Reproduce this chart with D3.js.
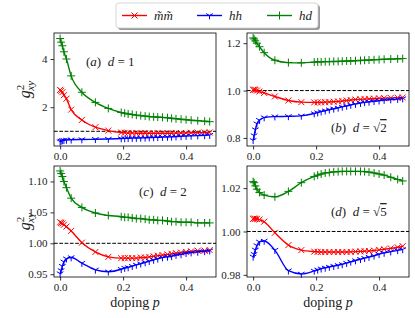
<!DOCTYPE html>
<html>
<head>
<meta charset="utf-8">
<script src="https://cdn.jsdelivr.net/npm/d3@7/dist/d3.min.js"></script>
<style>
body { margin: 0; background: #fff; }
text { font-family: "Liberation Serif", "DejaVu Serif", serif; fill: #222; }
</style>
</head>
<body>
<script>
// doping values (same grid for every panel)
const doping = [0, 0.003, 0.007, 0.012, 0.02, 0.035, 0.069, 0.112, 0.153, 0.194, 0.205, 0.216, 0.229, 0.242,
  0.256, 0.27, 0.283, 0.297, 0.31, 0.325, 0.341, 0.354, 0.368, 0.384, 0.4, 0.416, 0.437, 0.459, 0.475];

// (a) d = 1
const mmA = [2.72, 2.68, 2.62, 2.5, 2.35, 1.9, 1.47, 1.17, 1.03, 0.95, 0.94, 0.93, 0.93, 0.92, 0.92, 0.92, 0.92,
  0.92, 0.92, 0.92, 0.92, 0.92, 0.93, 0.93, 0.93, 0.94, 0.94, 0.95, 0.95];
const hhA = [0.57, 0.6, 0.62, 0.63, 0.64, 0.65, 0.66, 0.67, 0.68, 0.7, 0.705, 0.71, 0.715, 0.72, 0.725, 0.73,
  0.74, 0.745, 0.75, 0.76, 0.765, 0.77, 0.78, 0.79, 0.8, 0.81, 0.82, 0.83, 0.84];
const hdA = [4.85, 4.7, 4.55, 4.3, 4.0, 3.3, 2.62, 2.2, 1.95, 1.78, 1.75, 1.72, 1.7, 1.67, 1.65, 1.63, 1.61,
  1.6, 1.59, 1.58, 1.56, 1.54, 1.52, 1.5, 1.48, 1.46, 1.44, 1.42, 1.4];

// (b) d = sqrt(2)
const mmB = [1.003, 1.004, 1.003, 1.0, 0.996, 0.99, 0.975, 0.958, 0.951, 0.95, 0.95, 0.95, 0.951, 0.952, 0.953,
  0.954, 0.956, 0.958, 0.96, 0.962, 0.963, 0.964, 0.965, 0.966, 0.967, 0.968, 0.969, 0.97, 0.971];
const hhB = [0.79, 0.81, 0.835, 0.86, 0.875, 0.886, 0.89, 0.891, 0.893, 0.903, 0.907, 0.911, 0.915, 0.919, 0.923,
  0.927, 0.931, 0.935, 0.939, 0.943, 0.947, 0.95, 0.952, 0.955, 0.957, 0.96, 0.962, 0.964, 0.966];
const hdB = [1.222, 1.218, 1.21, 1.2, 1.185, 1.16, 1.128, 1.118, 1.117, 1.12, 1.121, 1.121, 1.122, 1.122, 1.123,
  1.123, 1.124, 1.125, 1.125, 1.126, 1.127, 1.128, 1.129, 1.13, 1.131, 1.132, 1.133, 1.134, 1.135];

// (c) d = 2
const mmC = [1.034, 1.033, 1.032, 1.03, 1.027, 1.02, 1.001, 0.986, 0.978, 0.976, 0.976, 0.976, 0.976, 0.976,
  0.977, 0.977, 0.978, 0.979, 0.98, 0.981, 0.982, 0.983, 0.984, 0.985, 0.986, 0.987, 0.988, 0.988, 0.989];
const hhC = [0.951, 0.956, 0.963, 0.97, 0.975, 0.977, 0.968, 0.957, 0.954, 0.958, 0.96, 0.961, 0.963, 0.965,
  0.967, 0.969, 0.971, 0.973, 0.975, 0.977, 0.978, 0.979, 0.981, 0.982, 0.984, 0.985, 0.986, 0.987, 0.988];
const hdC = [1.117, 1.113, 1.108, 1.1, 1.09, 1.073, 1.058, 1.049, 1.045, 1.043, 1.042, 1.042, 1.041, 1.04, 1.04,
  1.039, 1.038, 1.038, 1.037, 1.037, 1.036, 1.035, 1.035, 1.034, 1.034, 1.034, 1.033, 1.033, 1.033];

// (d) d = sqrt(5)
const mmD = [1.0058, 1.006, 1.0058, 1.0058, 1.0055, 1.0045, 0.9994, 0.9937, 0.9914, 0.9907, 0.9906, 0.9905,
  0.9905, 0.9905, 0.9905, 0.9905, 0.9905, 0.9905, 0.9906, 0.9907, 0.9908, 0.9909, 0.991, 0.9912, 0.9915,
  0.9918, 0.9922, 0.9927, 0.9932];
const hhD = [0.9883, 0.9895, 0.9915, 0.9935, 0.9952, 0.9956, 0.9914, 0.9819, 0.9804, 0.9818, 0.9823, 0.9828,
  0.9832, 0.9836, 0.984, 0.9844, 0.9848, 0.9854, 0.986, 0.9866, 0.9872, 0.9877, 0.9882, 0.9888, 0.9895,
  0.9901, 0.9907, 0.9913, 0.9917];
const hdD = [1.023, 1.0225, 1.021, 1.0195, 1.018, 1.0168, 1.016, 1.0185, 1.0225, 1.0254, 1.026, 1.0265, 1.027,
  1.0272, 1.0275, 1.0276, 1.0277, 1.0277, 1.0277, 1.0277, 1.0277, 1.0276, 1.0274, 1.027, 1.0265, 1.026,
  1.025, 1.024, 1.0233];

const xTicks = [0, 0.2, 0.4];
const yTicksA = [2, 4], yTicksB = [0.8, 1.0, 1.2], yTicksC = [0.95, 1.00, 1.05, 1.10], yTicksD = [0.98, 1.00, 1.02];
const seriesNames = ["m\u0303m\u0303", "hh", "hd"];

const W = 415, H = 318;
const svg = d3.select("body").append("svg").attr("width", W).attr("height", H);

const colors = ["#ff0000", "#0000ff", "#008000"];
const markers = [
  "M-3,-3L3,3M-3,3L3,-3",                       // x
  "M0,0L0,3.8M0,0L-3.3,-1.9M0,0L3.3,-1.9",      // tri_down
  "M-4,0H4M0,-4V4"                              // +
];

const panels = [
  { left: 54, top: 33, right: 216, bottom: 146, yDom: [0.39, 5.08], yTicks: yTicksA, fmt: "d",
    data: [mmA, hhA, hdA], tag: "a", dval: "1", sqrt: false, tx: 86, ty: 66 },
  { left: 247, top: 33, right: 409, bottom: 146, yDom: [0.766, 1.243], yTicks: yTicksB, fmt: ".1f",
    data: [mmB, hhB, hdB], tag: "b", dval: "2", sqrt: true, tx: 331, ty: 132 },
  { left: 54, top: 166, right: 216, bottom: 277, yDom: [0.9455, 1.125], yTicks: yTicksC, fmt: ".2f",
    data: [mmC, hhC, hdC], tag: "c", dval: "2", sqrt: false, tx: 139, ty: 196 },
  { left: 247, top: 166, right: 409, bottom: 277, yDom: [0.979, 1.0302], yTicks: yTicksD, fmt: ".2f",
    data: [mmD, hhD, hdD], tag: "d", dval: "5", sqrt: true, tx: 331, ty: 216 }
];

panels.forEach(p => {
  const x = d3.scaleLinear().domain([-0.0195, 0.495]).range([p.left, p.right]);
  const y = d3.scaleLinear().domain(p.yDom).range([p.bottom, p.top]);
  const g = svg.append("g");

  // axes
  const xa = g.append("g").attr("transform", "translate(0," + p.bottom + ")")
    .call(d3.axisBottom(x).tickValues(xTicks).tickFormat(d3.format(".1f")).tickSize(3.5).tickPadding(3).tickSizeOuter(0));
  const ya = g.append("g").attr("transform", "translate(" + p.left + ",0)")
    .call(d3.axisLeft(y).tickValues(p.yTicks).tickFormat(d3.format(p.fmt)).tickSize(3.5).tickPadding(3).tickSizeOuter(0));
  [xa, ya].forEach(a => {
    a.select(".domain").remove();
    a.selectAll("text").style("font-family", "Liberation Serif, serif").style("font-size", "11px").attr("fill", "#222");
    a.selectAll("line").attr("stroke", "#000").attr("stroke-width", 0.8);
  });

  // reference line at 1
  g.append("line")
    .attr("x1", p.left).attr("x2", p.right)
    .attr("y1", y(1)).attr("y2", y(1))
    .attr("stroke", "#000").attr("stroke-width", 1).attr("stroke-dasharray", "3.7,1.6");

  const line = d3.line().x((d, i) => x(doping[i])).y(d => y(d)).curve(d3.curveMonotoneX);
  p.data.forEach((vals, k) => {
    g.append("path").datum(vals).attr("d", line)
      .attr("fill", "none").attr("stroke", colors[k]).attr("stroke-width", 1.4);
    g.selectAll(".m" + k).data(vals).enter().append("path")
      .attr("class", "m" + k)
      .attr("transform", (d, i) => "translate(" + x(doping[i]) + "," + y(d) + ")")
      .attr("d", markers[k])
      .attr("fill", "none").attr("stroke", colors[k]).attr("stroke-width", 1);
  });

  // frame
  g.append("rect").attr("x", p.left).attr("y", p.top)
    .attr("width", p.right - p.left).attr("height", p.bottom - p.top)
    .attr("fill", "none").attr("stroke", "#000").attr("stroke-width", 0.8);

  // panel label
  const t = g.append("text").attr("x", p.tx).attr("y", p.ty).style("font-size", "13px");
  t.append("tspan").text("(");
  t.append("tspan").attr("font-style", "italic").text(p.tag);
  t.append("tspan").text(")\u2002");
  t.append("tspan").attr("font-style", "italic").text("d");
  if (p.sqrt) {
    t.append("tspan").text(" = \u221A");
    t.append("tspan").style("text-decoration", "overline").text(p.dval);
  } else {
    t.append("tspan").text(" = " + p.dval);
  }
});

// y labels
[89.5, 221.5].forEach(cy => {
  const t = svg.append("text").attr("transform", "translate(30," + cy + ") rotate(-90)")
    .attr("text-anchor", "middle").style("font-size", "16px");
  t.append("tspan").attr("font-style", "italic").text("g");
  t.append("tspan").attr("dy", -6).style("font-size", "11px").text("2");
  t.append("tspan").attr("dx", -6).attr("dy", 10).attr("font-style", "italic").style("font-size", "11px").text("xy");
});

// x labels
[135, 328].forEach(cx => {
  const t = svg.append("text").attr("x", cx).attr("y", 307).attr("text-anchor", "middle").style("font-size", "14px");
  t.append("tspan").text("doping ");
  t.append("tspan").attr("font-style", "italic").text("p");
});

// legend
const lg = svg.append("g");
const lx = 116, ly = 3, lw = 202, lh = 25;
lg.append("rect").attr("x", lx + 2).attr("y", ly + 2).attr("width", lw).attr("height", lh)
  .attr("rx", 3).attr("fill", "#999");
lg.append("rect").attr("x", lx).attr("y", ly).attr("width", lw).attr("height", lh)
  .attr("rx", 3).attr("fill", "#fff").attr("stroke", "#ccc").attr("stroke-width", 0.8);
const itemX = [122, 197, 267];
seriesNames.forEach((name, k) => {
  const cy = ly + lh / 2;
  lg.append("line").attr("x1", itemX[k]).attr("x2", itemX[k] + 25).attr("y1", cy).attr("y2", cy)
    .attr("stroke", colors[k]).attr("stroke-width", 1.4);
  lg.append("path").attr("transform", "translate(" + (itemX[k] + 12.5) + "," + cy + ")")
    .attr("d", markers[k]).attr("fill", "none").attr("stroke", colors[k]).attr("stroke-width", 1);
  lg.append("text").attr("x", itemX[k] + 32).attr("y", cy + 4.5)
    .attr("font-style", "italic").style("font-size", "13px").text(name);
});
</script>
</body>
</html>
